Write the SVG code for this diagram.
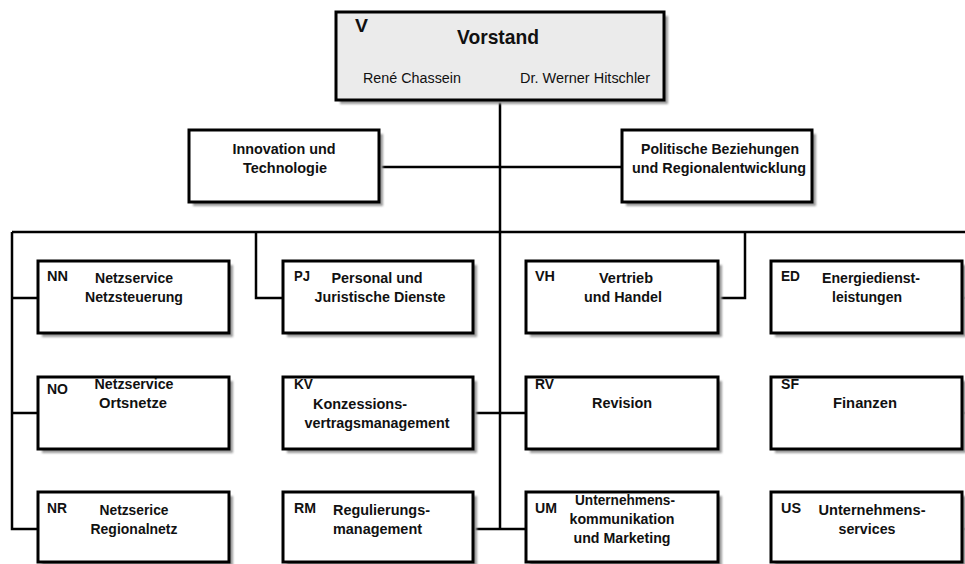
<svg xmlns="http://www.w3.org/2000/svg" width="965" height="564" viewBox="0 0 965 564">
<defs>
<filter id="sh" x="-10%" y="-10%" width="130%" height="140%"><feGaussianBlur stdDeviation="1.2"/></filter>
<style>
.box{fill:#fff;stroke:#000;stroke-width:3}
.shd{fill:#9a9a9a;filter:url(#sh)}
.ln{fill:none;stroke:#000;stroke-width:2.5}
text{font-family:"Liberation Sans",Arial,sans-serif;font-weight:bold;font-size:15px;fill:#111}
.c{text-anchor:middle}
.code{font-size:15px}
</style>
</defs>
<rect width="965" height="564" fill="#fff"/>
<g id="connectors">
<path class="ln" d="M500,100 V529"/>
<path class="ln" d="M379,167 H622"/>
<path class="ln" d="M12,232 H966"/>
<path class="ln" d="M12,232 V529 H38 M12,298 H38 M12,413 H38"/>
<path class="ln" d="M256,232 V298 H283"/>
<path class="ln" d="M745,232 V298 H718"/>
<path class="ln" d="M473,413 H526"/>
<path class="ln" d="M473,529 H526"/>
<path class="ln" d="M962,298 H966 M962,413 H966 M962,529 H966"/>
</g>
<g id="V">
<rect class="shd" x="340" y="16" width="328" height="88"/>
<rect x="336" y="12" width="328" height="88" fill="#ebebeb" stroke="#000" stroke-width="3"/>
<text x="355" y="32" style="font-size:18px" textLength="13" lengthAdjust="spacingAndGlyphs">V</text>
<text class="c" x="498" y="44" style="font-size:21px" textLength="82" lengthAdjust="spacingAndGlyphs">Vorstand</text>
<text class="c" x="412" y="83" style="font-weight:normal;font-size:14px" textLength="98" lengthAdjust="spacingAndGlyphs">René Chassein</text>
<text class="c" x="585" y="83" style="font-weight:normal;font-size:14px" textLength="130" lengthAdjust="spacingAndGlyphs">Dr. Werner Hitschler</text>
</g>
<g id="IT">
<rect class="shd" x="193" y="134" width="190" height="72"/>
<rect class="box" x="189" y="130" width="190" height="72"/>
<text class="c" x="284" y="154" textLength="103" lengthAdjust="spacingAndGlyphs">Innovation und</text>
<text class="c" x="285" y="173" textLength="84" lengthAdjust="spacingAndGlyphs">Technologie</text>
</g>
<g id="PB">
<rect class="shd" x="626" y="134" width="190" height="72"/>
<rect class="box" x="622" y="130" width="190" height="72"/>
<text class="c" x="720" y="154" textLength="158" lengthAdjust="spacingAndGlyphs">Politische Beziehungen</text>
<text class="c" x="719" y="173" textLength="174" lengthAdjust="spacingAndGlyphs">und Regionalentwicklung</text>
</g>
<g id="NN">
<rect class="shd" x="42" y="265" width="191" height="72"/>
<rect class="box" x="38" y="261" width="191" height="72"/>
<text class="code" x="47" y="281" textLength="21" lengthAdjust="spacingAndGlyphs">NN</text>
<text class="c" x="134" y="283" textLength="78" lengthAdjust="spacingAndGlyphs">Netzservice</text>
<text class="c" x="134" y="302" textLength="98" lengthAdjust="spacingAndGlyphs">Netzsteuerung</text>
</g>
<g id="PJ">
<rect class="shd" x="287" y="265" width="190" height="72"/>
<rect class="box" x="283" y="261" width="190" height="72"/>
<text class="code" x="294" y="281" textLength="16" lengthAdjust="spacingAndGlyphs">PJ</text>
<text class="c" x="377" y="283" textLength="91" lengthAdjust="spacingAndGlyphs">Personal und</text>
<text class="c" x="380" y="302" textLength="131" lengthAdjust="spacingAndGlyphs">Juristische Dienste</text>
</g>
<g id="VH">
<rect class="shd" x="530" y="265" width="192" height="72"/>
<rect class="box" x="526" y="261" width="192" height="72"/>
<text class="code" x="535" y="281" textLength="20" lengthAdjust="spacingAndGlyphs">VH</text>
<text class="c" x="626" y="283" textLength="54" lengthAdjust="spacingAndGlyphs">Vertrieb</text>
<text class="c" x="623" y="302" textLength="78" lengthAdjust="spacingAndGlyphs">und Handel</text>
</g>
<g id="ED">
<rect class="shd" x="775" y="265" width="191" height="72"/>
<rect class="box" x="771" y="261" width="191" height="72"/>
<text class="code" x="781" y="281" textLength="19" lengthAdjust="spacingAndGlyphs">ED</text>
<text class="c" x="871" y="283" textLength="98" lengthAdjust="spacingAndGlyphs">Energiedienst-</text>
<text class="c" x="867" y="302" textLength="70" lengthAdjust="spacingAndGlyphs">leistungen</text>
</g>
<g id="NO">
<rect class="shd" x="42" y="381" width="191" height="72"/>
<rect class="box" x="38" y="377" width="191" height="72"/>
<text class="code" x="47" y="394" textLength="21" lengthAdjust="spacingAndGlyphs">NO</text>
<text class="c" x="134" y="389" textLength="79" lengthAdjust="spacingAndGlyphs">Netzservice</text>
<text class="c" x="133" y="408" textLength="68" lengthAdjust="spacingAndGlyphs">Ortsnetze</text>
</g>
<g id="KV">
<rect class="shd" x="287" y="381" width="190" height="72"/>
<rect class="box" x="283" y="377" width="190" height="72"/>
<text class="code" x="294" y="389" textLength="19" lengthAdjust="spacingAndGlyphs">KV</text>
<text class="c" x="360" y="409" textLength="94" lengthAdjust="spacingAndGlyphs">Konzessions-</text>
<text class="c" x="377" y="428" textLength="145" lengthAdjust="spacingAndGlyphs">vertragsmanagement</text>
</g>
<g id="RV">
<rect class="shd" x="530" y="381" width="192" height="72"/>
<rect class="box" x="526" y="377" width="192" height="72"/>
<text class="code" x="535" y="389" textLength="19" lengthAdjust="spacingAndGlyphs">RV</text>
<text class="c" x="622" y="408" textLength="60" lengthAdjust="spacingAndGlyphs">Revision</text>
</g>
<g id="SF">
<rect class="shd" x="775" y="381" width="191" height="72"/>
<rect class="box" x="771" y="377" width="191" height="72"/>
<text class="code" x="781" y="389" textLength="18" lengthAdjust="spacingAndGlyphs">SF</text>
<text class="c" x="865" y="408" textLength="64" lengthAdjust="spacingAndGlyphs">Finanzen</text>
</g>
<g id="NR">
<rect class="shd" x="42" y="496" width="191" height="72"/>
<rect class="box" x="38" y="492" width="191" height="70"/>
<text class="code" x="47" y="513" textLength="20" lengthAdjust="spacingAndGlyphs">NR</text>
<text class="c" x="134" y="515" textLength="69" lengthAdjust="spacingAndGlyphs">Netzserice</text>
<text class="c" x="134" y="534" textLength="87" lengthAdjust="spacingAndGlyphs">Regionalnetz</text>
</g>
<g id="RM">
<rect class="shd" x="287" y="496" width="190" height="72"/>
<rect class="box" x="283" y="492" width="190" height="70"/>
<text class="code" x="294" y="513" textLength="22" lengthAdjust="spacingAndGlyphs">RM</text>
<text x="333" y="515" textLength="97" lengthAdjust="spacingAndGlyphs">Regulierungs-</text>
<text x="333" y="534" textLength="89" lengthAdjust="spacingAndGlyphs">management</text>
</g>
<g id="UM">
<rect class="shd" x="530" y="496" width="192" height="72"/>
<rect class="box" x="526" y="492" width="192" height="70"/>
<text class="code" x="535" y="513" textLength="22" lengthAdjust="spacingAndGlyphs">UM</text>
<text class="c" x="625" y="505" textLength="100" lengthAdjust="spacingAndGlyphs">Unternehmens-</text>
<text class="c" x="622" y="524" textLength="105" lengthAdjust="spacingAndGlyphs">kommunikation</text>
<text class="c" x="622" y="543" textLength="97" lengthAdjust="spacingAndGlyphs">und Marketing</text>
</g>
<g id="US">
<rect class="shd" x="775" y="496" width="191" height="72"/>
<rect class="box" x="771" y="492" width="191" height="70"/>
<text class="code" x="781" y="513" textLength="20" lengthAdjust="spacingAndGlyphs">US</text>
<text class="c" x="872" y="515" textLength="107" lengthAdjust="spacingAndGlyphs">Unternehmens-</text>
<text class="c" x="867" y="534" textLength="57" lengthAdjust="spacingAndGlyphs">services</text>
</g>
</svg>
